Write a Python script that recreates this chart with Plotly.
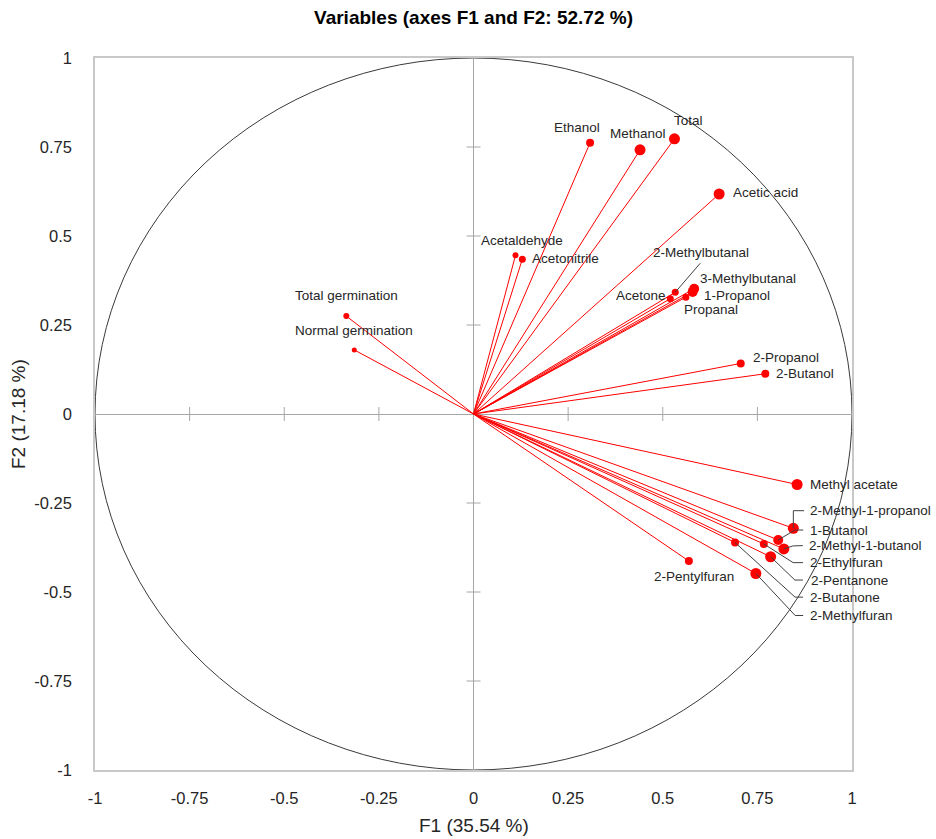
import plotly.graph_objects as go

# ---------------- data ----------------
variables = [
    "Ethanol", "Methanol", "Total", "Acetic acid", "Acetaldehyde", "Acetonitrile",
    "2-Methylbutanal", "3-Methylbutanal", "1-Propanol", "Acetone", "Propanal",
    "Total germination", "Normal germination", "2-Propanol", "2-Butanol",
    "Methyl acetate", "2-Methyl-1-propanol", "1-Butanol", "2-Methyl-1-butanol",
    "2-Ethylfuran", "2-Pentanone", "2-Butanone", "2-Methylfuran", "2-Pentylfuran",
]
f1 = [0.308, 0.440, 0.531, 0.649, 0.111, 0.129,
      0.533, 0.583, 0.579, 0.520, 0.561,
      -0.336, -0.315, 0.706, 0.771,
      0.855, 0.845, 0.805, 0.820,
      0.767, 0.785, 0.691, 0.746, 0.569]
f2 = [0.762, 0.742, 0.773, 0.618, 0.446, 0.435,
      0.342, 0.352, 0.343, 0.324, 0.328,
      0.275, 0.180, 0.142, 0.113,
      -0.198, -0.321, -0.354, -0.379,
      -0.365, -0.401, -0.361, -0.448, -0.413]
marker_px = [8, 11, 11, 11, 6, 7,
             7, 10, 10, 7, 7,
             6, 5, 8, 8,
             11, 11, 10, 11,
             8, 11, 8, 11, 8]

tick_vals = [-1, -0.75, -0.5, -0.25, 0, 0.25, 0.5, 0.75, 1]
tick_text = ["-1", "-0.75", "-0.5", "-0.25", "0", "0.25", "0.5", "0.75", "1"]

title_text = "Variables (axes F1 and F2: 52.72 %)"
x_title = "F1 (35.54 %)"
y_title = "F2 (17.18 %)"

# label placement (pixel offsets from the point: dx right, dy down), anchor, leader path
label_place = {
    "Ethanol": (-13.5, -15.7, "center", None),
    "Methanol": (-2, -16, "center", None),
    "Total": (14, -18, "center", None),
    "Acetic acid": (11.7, -1.3, "left", None),
    "Acetaldehyde": (6, -15, "center", None),
    "Acetonitrile": (8, -1, "left", None),
    "2-Methylbutanal": (26, -40, "center", [(0, 0), (25, -29)]),
    "3-Methylbutanal": (3.5, -10.5, "left", None),
    "1-Propanol": (9, 3.7, "left", None),
    "Acetone": (-2, -3, "right", None),
    "Propanal": (-3.7, 12.7, "left", None),
    "Total germination": (0, -20.3, "center", None),
    "Normal germination": (-0.6, -19, "center", None),
    "2-Propanol": (10.3, -6, "left", None),
    "2-Butanol": (9, 0, "left", None),
    "Methyl acetate": (11.3, 0, "left", None),
    "2-Methyl-1-propanol": (14.4, -17.6, "left", [(0, 0), (0, -17.6), (10.7, -17.6)]),
    "1-Butanol": (30, -10, "left", [(0, 0), (16.7, -10), (25, -10)]),
    "2-Methyl-1-butanol": (22.7, -3.3, "left", [(0, 0), (9, -3), (19, -3.3)]),
    "2-Ethylfuran": (44.3, 18.7, "left", [(0, 0), (29.3, 18.7), (39.3, 18.7)]),
    "2-Pentanone": (38.3, 23.3, "left", [(0, 0), (24.3, 23.3), (32.3, 23.3)]),
    "2-Butanone": (73, 54.6, "left", [(0, 0), (60, 54.6), (68, 54.6)]),
    "2-Methylfuran": (52.3, 42, "left", [(0, 0), (39.3, 42), (47.3, 42)]),
    "2-Pentylfuran": (5, 15, "center", None),
}

FONT = "Liberation Sans, Arial, sans-serif"
RED = "rgb(255,0,0)"

fig = go.Figure()

# rays from origin
rx, ry = [], []
for x, y in zip(f1, f2):
    rx += [0, x, None]
    ry += [0, y, None]
fig.add_trace(go.Scatter(x=rx, y=ry, mode="lines",
                         line=dict(color=RED, width=1), hoverinfo="skip",
                         showlegend=False))
# points
fig.add_trace(go.Scatter(x=f1, y=f2, mode="markers", text=variables,
                         marker=dict(color=RED, size=marker_px, opacity=1,
                                     line=dict(width=0)),
                         showlegend=False))

shapes = []
# unit circle
shapes.append(dict(type="circle", xref="x", yref="y", x0=-1, y0=-1, x1=1, y1=1,
                   line=dict(color="#3a3a3a", width=1), layer="below"))
# cross ticks on zero lines
for v in tick_vals:
    if v in (-1, 0, 1):
        continue
    shapes.append(dict(type="line", xref="x", yref="y", xsizemode="pixel",
                       xanchor=0, x0=-7, x1=7, y0=v, y1=v,
                       line=dict(color="#a6a6a6", width=1), layer="below"))
    shapes.append(dict(type="line", xref="x", yref="y", ysizemode="pixel",
                       yanchor=0, y0=-7, y1=7, x0=v, x1=v,
                       line=dict(color="#a6a6a6", width=1), layer="below"))

annotations = []
for name, x, y in zip(variables, f1, f2):
    dx, dy, anchor, leader = label_place[name]
    annotations.append(dict(x=x, y=y, xref="x", yref="y", text=name,
                            showarrow=False, xanchor=anchor, yanchor="middle",
                            xshift=dx, yshift=-dy,
                            font=dict(family=FONT, size=13.5, color="#262626")))
    if leader:
        path = "M " + " L ".join(f"{px} {-py}" for px, py in leader)
        shapes.append(dict(type="path", xref="x", yref="y",
                           xsizemode="pixel", ysizemode="pixel",
                           xanchor=x, yanchor=y, path=path,
                           line=dict(color="#404040", width=1)))

annotations.append(dict(text=x_title, xref="paper", yref="paper", x=0.5, y=0,
                        yshift=-55, showarrow=False, xanchor="center", yanchor="middle",
                        font=dict(family=FONT, size=19, color="#262626")))
annotations.append(dict(text=y_title, xref="paper", yref="paper", x=0, y=0.5,
                        xshift=-77, showarrow=False, textangle=-90,
                        xanchor="center", yanchor="middle",
                        font=dict(family=FONT, size=19, color="#262626")))

axis_common = dict(range=[-1, 1], tickmode="array", tickvals=tick_vals, ticktext=tick_text,
                   showgrid=False, zeroline=True, zerolinecolor="#a6a6a6", zerolinewidth=1,
                   showline=True, mirror=True, linecolor="#c8c8c8", linewidth=1.5,
                   ticks="", automargin=False,
                   tickfont=dict(family=FONT, size=16.5, color="#262626"))

fig.update_layout(
    width=936, height=839,
    margin=dict(l=95, r=84, t=58, b=69, autoexpand=False),
    paper_bgcolor="white", plot_bgcolor="white",
    title=dict(text="<b>" + title_text + "</b>", x=0.5, xref="paper",
               y=1 - 17 / 839, yref="container", yanchor="middle", xanchor="center",
               font=dict(family=FONT, size=19, color="#000000")),
    xaxis=dict(axis_common, ticklabelstandoff=12),
    yaxis=dict(axis_common, ticklabelstandoff=18),
    shapes=shapes, annotations=annotations,
    showlegend=False,
)

fig.write_html("out.html", config={"displayModeBar": False},
               post_script="document.body.style.margin='0';document.body.style.overflow='hidden';")
